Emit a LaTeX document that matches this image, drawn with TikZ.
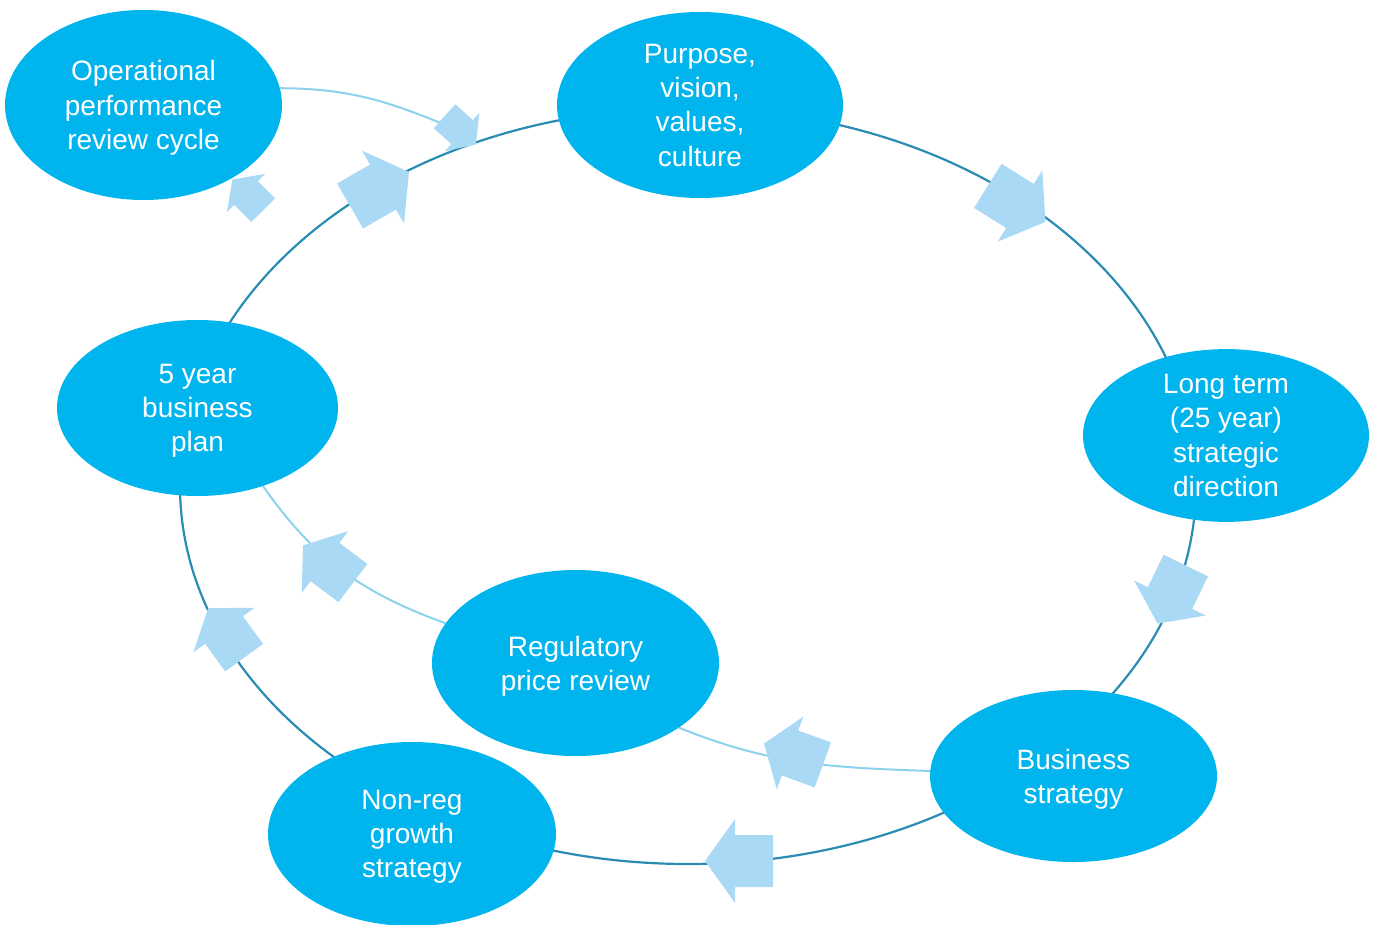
\documentclass[tikz,border=0pt]{standalone}
\usepackage{fontspec}
\setmainfont{Liberation Sans}
\usetikzlibrary{shapes.geometric,backgrounds}

\definecolor{nodeblue}{RGB}{0,180,238}
\definecolor{ringteal}{RGB}{42,140,178}
\definecolor{linklight}{RGB}{140,210,236}
\definecolor{arrowfill}{RGB}{170,217,245}

\tikzset{
  stage/.style={ellipse, fill=nodeblue, draw=none, inner sep=0pt,
    text=white, align=center, text depth=0pt,
    font=\fontsize{28}{34.3}\selectfont},
  ringline/.style={draw=ringteal, line width=2.2pt},
  linkline/.style={draw=linklight, line width=2pt},
  blockarrow/.pic={
    \fill[arrowfill] (-38,-26) -- (0,-26) -- (0,-42) -- (30,0)
      -- (0,42) -- (0,26) -- (-38,26) -- cycle;
  }
}

\begin{document}
\begin{tikzpicture}[x=1pt, y=-1pt]
\useasboundingbox (0,0) rectangle (1380,925);

% stages of the cycle
\node[stage, minimum width=277, minimum height=190] (op)  at (143.5,105) {Operational\\performance\\review cycle};
\node[stage, minimum width=286, minimum height=186] (pur) at (700,105)   {Purpose,\\vision,\\values,\\culture};
\node[stage, minimum width=286, minimum height=159] (lt)  at (1226,435.5) {Long term\\(25 year)\\strategic\\direction};
\node[stage, minimum width=287, minimum height=172] (bs)  at (1073.5,776) {Business\\strategy};
\node[stage, minimum width=287, minimum height=186] (reg) at (575.5,663) {Regulatory\\price review};
\node[stage, minimum width=288, minimum height=184] (nr)  at (412,834)   {Non-reg\\growth\\strategy};
\node[stage, minimum width=281, minimum height=176] (yr5) at (197.5,408) {5 year\\business\\plan};

% arrow positions (head base centres)
\coordinate (a1) at (383,187);
\coordinate (a2) at (1020,206);
\coordinate (a3) at (1170,598);
\coordinate (a4) at (735,861);
\coordinate (a5) at (224,630);
\coordinate (a6) at (790,753);
\coordinate (a7) at (325,562);
\coordinate (a8) at (246,193);
\coordinate (a9) at (462,132);
\coordinate (ringc) at (688,486);

\begin{pgfonlayer}{background}
  % main cycle
  \draw[ringline] (ringc) ellipse [x radius=508, y radius=378];
  % side links
  \draw[linkline] (op.7) to[out=0, in=157] (a9);
  \draw[linkline] (reg.163) to[out=160, in=-55] (yr5.-50);
  \draw[linkline] (bs.178) to[out=178, in=-22] (reg.-32);
\end{pgfonlayer}

% direction arrows
\pic[rotate=30]               at (a1) {blockarrow};
\pic[rotate=-32]              at (a2) {blockarrow};
\pic[rotate=-116, scale=0.95] at (a3) {blockarrow};
\pic[rotate=180]              at (a4) {blockarrow};
\pic[rotate=126, scale=0.9]   at (a5) {blockarrow};
\pic[rotate=160, scale=0.92]  at (a6) {blockarrow};
\pic[rotate=143, scale=0.92]  at (a7) {blockarrow};
\pic[rotate=135, scale=0.64]  at (a8) {blockarrow};
\pic[rotate=-42, scale=0.62]  at (a9) {blockarrow};
\end{tikzpicture}
\end{document}
